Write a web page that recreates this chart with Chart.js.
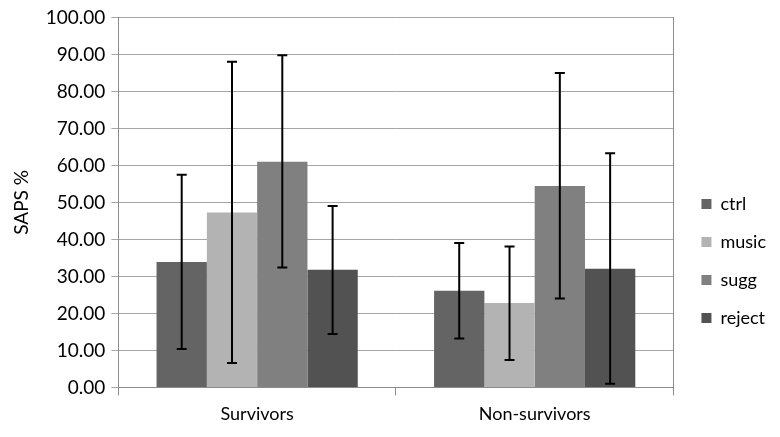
<!DOCTYPE html>
<html>
<head>
<meta charset="utf-8">
<script src="https://cdn.jsdelivr.net/npm/chart.js@4.4.1/dist/chart.umd.min.js"></script>
<style>
  html, body { margin: 0; padding: 0; background: #fff; }
  #wrap { width: 780px; height: 437px; }
</style>
</head>
<body>
<div id="wrap"><canvas id="grafico"></canvas></div>
<script>
// Dados do gráfico
const categorias = ['Survivors', 'Non-survivors'];
const series = ['ctrl', 'music', 'sugg', 'reject'];
const cores = ['#646464', '#b3b3b3', '#808080', '#525252'];

const valoresCtrl = [33.9, 26.1];
const valoresMusic = [47.3, 22.8];
const valoresSugg = [61.0, 54.4];
const valoresReject = [31.8, 32.1];

// limites das barras de erro (inferior / superior)
const erroInfCtrl = [10.4, 13.2];
const erroSupCtrl = [57.5, 39.0];
const erroInfMusic = [6.6, 7.4];
const erroSupMusic = [88.0, 38.1];
const erroInfSugg = [32.4, 24.0];
const erroSupSugg = [89.8, 85.0];
const erroInfReject = [14.4, 1.0];
const erroSupReject = [49.0, 63.3];

const valores = [valoresCtrl, valoresMusic, valoresSugg, valoresReject];
const errosInf = [erroInfCtrl, erroInfMusic, erroInfSugg, erroInfReject];
const errosSup = [erroSupCtrl, erroSupMusic, erroSupSugg, erroSupReject];

const fonte = 'Lato, "Open Sans", sans-serif';

// Plugin para desenhar as barras de erro
const barrasErro = {
  id: 'barrasErro',
  afterDatasetsDraw(chart) {
    const ctx = chart.ctx;
    const y = chart.scales.y;
    ctx.save();
    ctx.strokeStyle = '#000';
    ctx.lineWidth = 2;
    chart.data.datasets.forEach((ds, i) => {
      const meta = chart.getDatasetMeta(i);
      meta.data.forEach((bar, j) => {
        const x = bar.x;
        const yLo = y.getPixelForValue(ds.erroInf[j]);
        const yHi = y.getPixelForValue(ds.erroSup[j]);
        ctx.beginPath();
        ctx.moveTo(x, yLo); ctx.lineTo(x, yHi);
        ctx.moveTo(x - 5, yLo); ctx.lineTo(x + 5, yLo);
        ctx.moveTo(x - 5, yHi); ctx.lineTo(x + 5, yHi);
        ctx.stroke();
      });
    });
    ctx.restore();
  }
};

new Chart(document.getElementById('grafico'), {
  type: 'bar',
  data: {
    labels: categorias,
    datasets: series.map((nome, i) => ({
      label: nome,
      data: valores[i],
      erroInf: errosInf[i],
      erroSup: errosSup[i],
      backgroundColor: cores[i],
      borderWidth: 0,
      categoryPercentage: 0.725,
      barPercentage: 1.0
    }))
  },
  options: {
    responsive: true,
    maintainAspectRatio: false,
    animation: false,
    layout: { padding: { top: 16, right: 4, bottom: 4, left: 6 } },
    plugins: {
      tooltip: { enabled: false },
      legend: {
        position: 'right',
        align: 'start',
        title: { display: true, text: ' ', padding: { top: 147, bottom: 0 }, font: { size: 10 } },
        labels: {
          boxWidth: 10,
          boxHeight: 10,
          padding: 20,
          color: '#000',
          font: { family: fonte, size: 18 }
        }
      }
    },
    scales: {
      x: {
        grid: { display: true, drawOnChartArea: false, color: '#8c8c8c', tickLength: 8, offset: true },
        border: { color: '#8c8c8c' },
        ticks: { color: '#000', font: { family: fonte, size: 18 }, padding: 8 }
      },
      y: {
        min: 0,
        max: 100,
        ticks: {
          stepSize: 10,
          color: '#000',
          padding: 6,
          font: { family: fonte, size: 19 },
          callback: v => v.toFixed(2)
        },
        grid: { color: '#a6a6a6', tickLength: 7 },
        border: { color: '#8c8c8c' },
        title: { display: true, text: 'SAPS %', color: '#000', font: { family: fonte, size: 19 }, padding: { bottom: 7 } }
      },
      y2: {
        position: 'right',
        min: 0,
        max: 100,
        ticks: { display: false },
        grid: { display: false },
        border: { color: '#8c8c8c' }
      }
    }
  },
  plugins: [barrasErro]
});
</script>
</body>
</html>
